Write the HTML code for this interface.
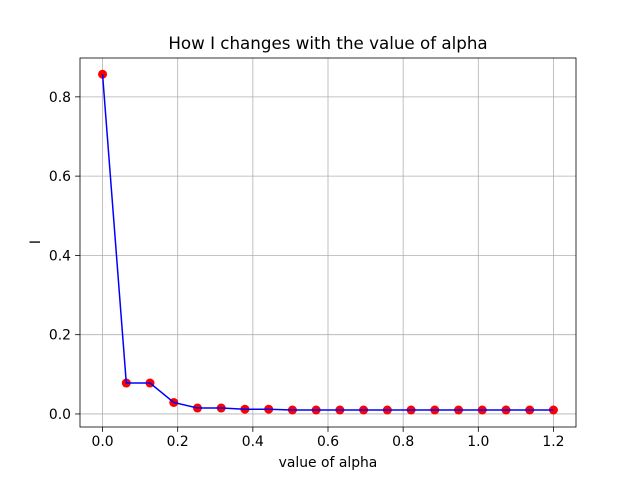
<!DOCTYPE html>
<html><head><meta charset="utf-8"><style>body{margin:0;background:#fff}svg{display:block;font-family:"DejaVu Sans","Liberation Sans",sans-serif}</style></head>
<body><svg id="c" width="640" height="480"></svg>
<script>
const xValues=[0,0.0632,0.1263,0.1895,0.2526,0.3158,0.3789,0.4421,0.5053,0.5684,0.6316,0.6947,0.7579,0.8211,0.8842,0.9474,1.0105,1.0737,1.1368,1.2];
const yValues=[0.857,0.078,0.078,0.029,0.015,0.015,0.012,0.012,0.01,0.01,0.01,0.01,0.01,0.01,0.01,0.01,0.01,0.01,0.01,0.01];
const xTicks=[0,0.2,0.4,0.6,0.8,1.0,1.2];
const yTicks=[0,0.2,0.4,0.6,0.8];
const L=80,R=576,T=58,B=427;
const x0=-0.06,x1=1.26,y0=-0.0329,y1=0.898;
const sx=v=>L+(v-x0)/(x1-x0)*(R-L);
const sy=v=>B-(v-y0)/(y1-y0)*(B-T);
const svg=document.getElementById('c');const NS='http://www.w3.org/2000/svg';
function mk(t,a,txt){const e=document.createElementNS(NS,t);for(const k in a)e.setAttribute(k,a[k]);if(txt!==undefined)e.textContent=txt;svg.appendChild(e);return e;}
xTicks.forEach(v=>{const x=sx(v);
let g=mk('line',{x1:x,x2:x,y1:T,y2:B,stroke:'#b0b0b0','stroke-width':0.8});


let t=mk('line',{x1:x,x2:x,y1:B,y2:B+4.9,stroke:'#000','stroke-width':0.8});


let l=mk('text',{x:x,y:B+19,'text-anchor':'middle','font-size':13.9},v.toFixed(1));

});
yTicks.forEach(v=>{const y=sy(v);
let g=mk('line',{x1:L,x2:R,y1:y,y2:y,stroke:'#b0b0b0','stroke-width':0.8});


let t=mk('line',{x1:L-4.9,x2:L,y1:y,y2:y,stroke:'#000','stroke-width':0.8});


let l=mk('text',{x:L-9,y:y+5,'text-anchor':'end','font-size':13.9},v.toFixed(1));

});
const pts=xValues.map((v,i)=>sx(v)+','+sy(yValues[i])).join(' ');
xValues.forEach((v,i)=>{let c=mk('circle',{cx:sx(v),cy:sy(yValues[i]),r:4.5,fill:'#ff0000'});

});
let pl=mk('polyline',{points:pts,fill:'none',stroke:'#0000ff','stroke-width':1.5});


let fr=mk('rect',{x:L,y:T,width:R-L,height:B-T,fill:'none',stroke:'#000','stroke-width':0.8});


let ti=mk('text',{x:(L+R)/2,y:49,'text-anchor':'middle','font-size':16.7},'How I changes with the value of alpha');


let xl=mk('text',{x:(L+R)/2,y:467,'text-anchor':'middle','font-size':13.9},'value of alpha');


let yl=mk('text',{x:40,y:242,'text-anchor':'middle','font-size':13.9,transform:'rotate(-90 40 242)'},'I');


</script></body></html>
